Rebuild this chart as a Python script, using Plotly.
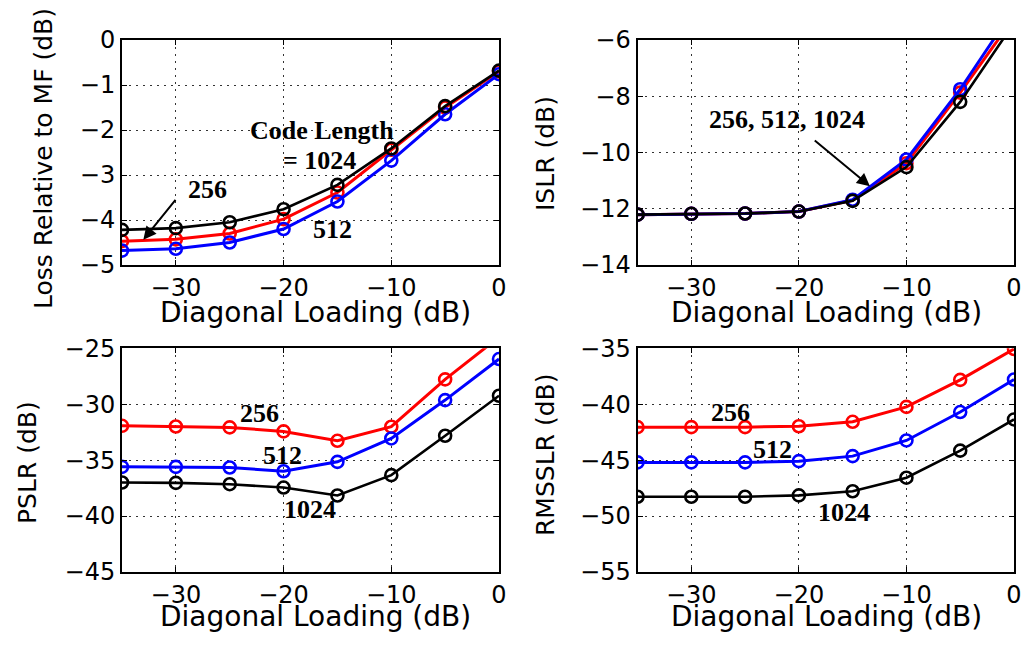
import plotly.graph_objects as go

# ---------------- data ----------------
loading_db = [-35, -30, -25, -20, -15, -10, -5, 0]

loss_256 = [-4.47, -4.43, -4.30, -3.98, -3.39, -2.44, -1.50, -0.70]
loss_512 = [-4.68, -4.64, -4.50, -4.20, -3.59, -2.68, -1.65, -0.76]
loss_1024 = [-4.22, -4.18, -4.05, -3.76, -3.22, -2.41, -1.47, -0.68]

islr_256 = [-12.21, -12.18, -12.17, -12.10, -11.70, -10.38, -7.87, -5.2]
islr_512 = [-12.21, -12.18, -12.17, -12.10, -11.68, -10.25, -7.75, -4.9]
islr_1024 = [-12.21, -12.18, -12.17, -12.10, -11.72, -10.52, -8.20, -5.4]

pslr_256 = [-31.93, -31.99, -32.07, -32.43, -33.27, -32.01, -27.78, -24.0]
pslr_512 = [-35.60, -35.60, -35.66, -35.99, -35.15, -33.06, -29.63, -25.96]
pslr_1024 = [-37.00, -37.03, -37.15, -37.45, -38.16, -36.34, -32.82, -29.24]

rms_256 = [-42.05, -42.05, -42.05, -41.97, -41.57, -40.24, -37.82, -35.06]
rms_512 = [-45.20, -45.20, -45.20, -45.09, -44.64, -43.24, -40.70, -37.79]
rms_1024 = [-48.27, -48.27, -48.27, -48.15, -47.78, -46.57, -44.15, -41.36]

x_ticks = [-30, -20, -10, 0]
y_ticks_loss = [0, -1, -2, -3, -4, -5]
y_ticks_islr = [-6, -8, -10, -12, -14]
y_ticks_pslr = [-25, -30, -35, -40, -45]
y_ticks_rms = [-35, -40, -45, -50, -55]

x_label = "Diagonal Loading (dB)"
y_labels = ["Loss Relative to MF (dB)", "ISLR (dB)", "PSLR (dB)", "RMSSLR (dB)"]

# ---------------- figure ----------------
W, H = 1030, 645
OFF = 8  # page body margin offset
# plot region in screen pixels: x 122..1014, y 40..572
ML, MT = 122 - OFF, 40 - OFF
MR = W - (1014 - OFF)
MB = H - (572 - OFF)
PW, PH = W - ML - MR, H - MT - MB


def px(xp):
    return (xp - OFF - ML) / PW


def py(yp):
    return (H - MB - (yp - OFF)) / PH


fig = go.Figure()

panels = [
    ("x", "y", [loss_256, loss_512, loss_1024]),
    ("x2", "y2", [islr_256, islr_512, islr_1024]),
    ("x3", "y3", [pslr_256, pslr_512, pslr_1024]),
    ("x4", "y4", [rms_256, rms_512, rms_1024]),
]
colors = ["#ff0000", "#0000ff", "#000000"]
widths = [3, 3, 2.6]

for xa, ya, series in panels:
    for s, c, w in zip(series, colors, widths):
        fig.add_trace(go.Scatter(
            x=loading_db, y=s, xaxis=xa, yaxis=ya, mode="lines+markers",
            line=dict(color=c, width=w),
            marker=dict(symbol="circle-open", size=12, color=c, line=dict(color=c, width=2.6)),
            showlegend=False, hoverinfo="skip",
        ))

tick_font = dict(family="DejaVu Sans", size=24, color="black")
axis_common = dict(
    showline=True, linecolor="black", linewidth=2, mirror="ticks",
    ticks="inside", ticklen=5, tickcolor="black", tickwidth=1,
    showgrid=True, gridcolor="#333333", griddash="2px,5px", gridwidth=1,
    zeroline=False, tickfont=tick_font,
)

xd_left = [0, px(499)]
xd_right = [px(637.5), 1]
yd_top = [py(265), 1]
yd_bot = [0, py(348.3)]

fig.update_layout(
    width=W, height=H, margin=dict(l=ML, r=MR, t=MT, b=MB),
    paper_bgcolor="white", plot_bgcolor="white",
    xaxis=dict(domain=xd_left, range=[-35, 0], tickvals=x_ticks, anchor="y", **axis_common),
    yaxis=dict(domain=yd_top, range=[-5, 0], tickvals=y_ticks_loss, anchor="x", **axis_common),
    xaxis2=dict(domain=xd_right, range=[-35, 0], tickvals=x_ticks, anchor="y2", **axis_common),
    yaxis2=dict(domain=yd_top, range=[-14, -6], tickvals=y_ticks_islr, anchor="x2", **axis_common),
    xaxis3=dict(domain=xd_left, range=[-35, 0], tickvals=x_ticks, anchor="y3", **axis_common),
    yaxis3=dict(domain=yd_bot, range=[-45, -25], tickvals=y_ticks_pslr, anchor="x3", **axis_common),
    xaxis4=dict(domain=xd_right, range=[-35, 0], tickvals=x_ticks, anchor="y4", **axis_common),
    yaxis4=dict(domain=yd_bot, range=[-55, -35], tickvals=y_ticks_rms, anchor="x4", **axis_common),
)

title_font = dict(family="DejaVu Sans", size=28, color="black")
ytitle_font = dict(family="DejaVu Sans", size=25, color="black")
ann = []
# x-axis titles
for cx, cy in [(315.5, 313), (826, 313), (315.5, 616), (826, 616)]:
    ann.append(dict(text=x_label, x=px(cx), y=py(cy), xref="paper", yref="paper",
                    xanchor="center", yanchor="middle", showarrow=False, font=title_font))
# y-axis titles
for lab_txt, (cx, cy) in zip(y_labels, [(43, 159), (545, 154), (27, 463), (545, 455)]):
    ann.append(dict(text=lab_txt, x=px(cx), y=py(cy), xref="paper", yref="paper", textangle=-90,
                    xanchor="center", yanchor="middle", showarrow=False, font=ytitle_font))

lab_font = dict(family="Liberation Serif", size=26, color="black")


def lab(t, x, y, xr, yr):
    return dict(text="<b>%s</b>" % t, x=x, y=y, xref=xr, yref=yr, showarrow=False,
                xanchor="center", yanchor="middle", font=lab_font)


ann += [
    lab("Code Length", -16.43, -2.0, "x", "y"),
    lab("= 1024", -16.65, -2.68, "x", "y"),
    lab("256", -27.1, -3.33, "x", "y"),
    lab("512", -15.5, -4.22, "x", "y"),
    lab("256, 512, 1024", -21.06, -8.82, "x2", "y2"),
    lab("256", -22.28, -30.79, "x3", "y3"),
    lab("512", -20.1, -34.55, "x3", "y3"),
    lab("1024", -17.55, -39.37, "x3", "y3"),
    lab("256", -26.4, -40.75, "x4", "y4"),
    lab("512", -22.42, -44.09, "x4", "y4"),
    lab("1024", -15.83, -49.66, "x4", "y4"),
]
# arrows
ann.append(dict(text="", x=-33.02, y=-4.44, ax=-29.92, ay=-3.52, xref="x", yref="y",
                axref="x", ayref="y", showarrow=True, arrowhead=2, arrowsize=1.3,
                arrowwidth=2, arrowcolor="black"))
ann.append(dict(text="", x=-13.39, y=-11.2, ax=-18.66, ay=-9.53, xref="x2", yref="y2",
                axref="x2", ayref="y2", showarrow=True, arrowhead=2, arrowsize=1.3,
                arrowwidth=2, arrowcolor="black"))
fig.update_layout(annotations=ann)

fig.write_html("out.html")
